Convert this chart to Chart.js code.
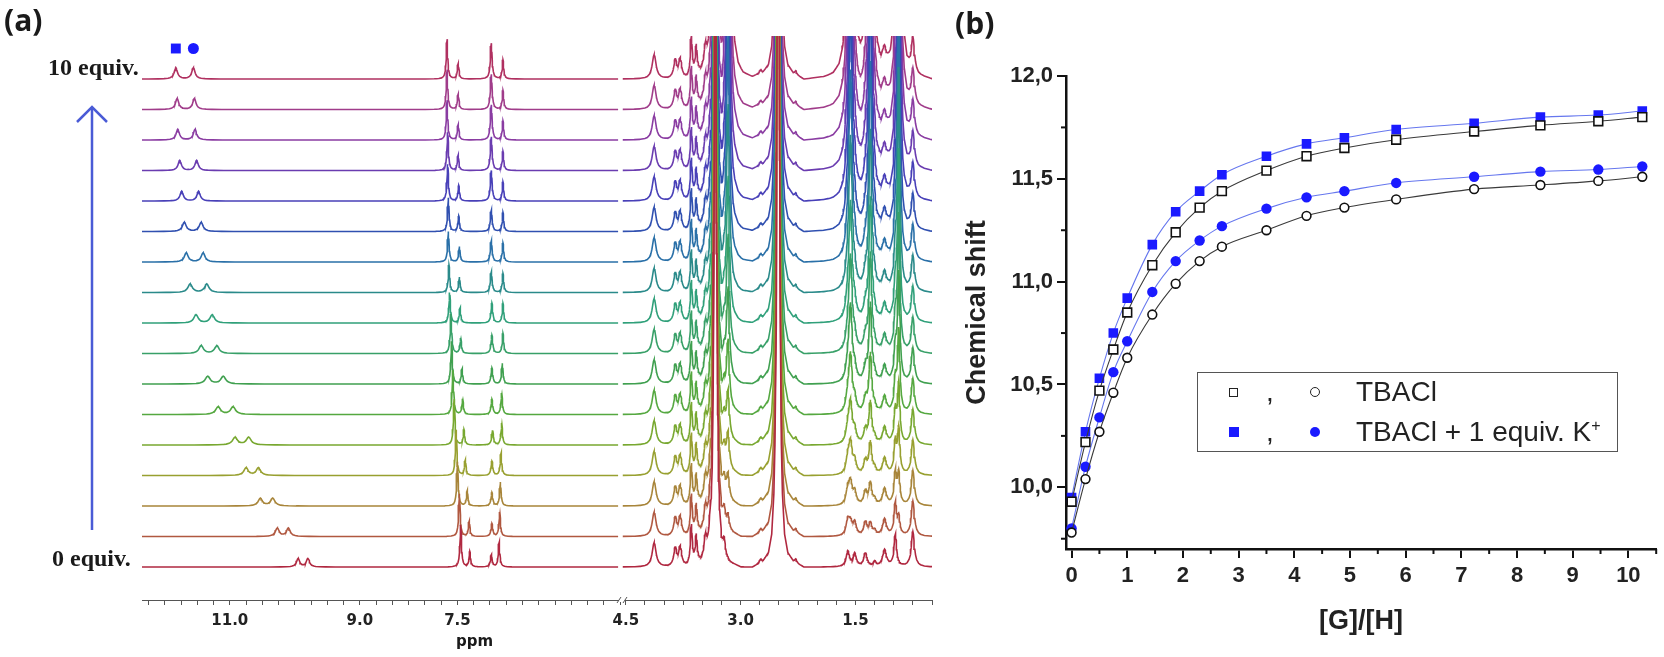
<!DOCTYPE html>
<html>
<head>
<meta charset="utf-8">
<script src="https://cdn.jsdelivr.net/npm/chart.js@4/dist/chart.umd.min.js"></script>
<style>
  html, body { margin: 0; padding: 0; background: #fff; }
  #page { position: relative; width: 1664px; height: 657px; overflow: hidden; background: #fff; }
  .box { position: absolute; top: 0; height: 657px; }
  .lbl { position: absolute; white-space: nowrap; color: #1a1a1a; }
  .panel { font-family: "Open Sans", sans-serif; font-weight: 700; font-size: 30px; line-height: 34px; }
  .equiv { font-family: "Liberation Serif", serif; font-weight: 700; font-size: 24px; line-height: 24px; }
  #legend { position: absolute; left: 1197px; top: 372px; width: 419px; height: 78px; border: 1.5px solid #555; }
  .row { position: absolute; left: 0; width: 100%; height: 34px; font-family: "Liberation Sans", Arial, sans-serif; font-size: 28px; line-height: 34px; color: #222; }
  .mk { position: absolute; box-sizing: border-box; }
</style>
</head>
<body>
<div id="page">
  <div class="box" style="left:0;width:945px"><canvas id="nmr"></canvas></div>
  <div class="box" style="left:940px;width:724px"><canvas id="titr"></canvas></div>

  <div class="lbl panel" style="left:4px;top:3px">(a)</div>
  <div class="lbl panel" style="left:955px;top:6px">(b)</div>
  <div class="lbl equiv" style="left:48px;top:55px">10 equiv.</div>
  <div class="lbl equiv" style="left:52px;top:546px">0 equiv.</div>
  <div class="lbl" style="left:456px;top:632px;font:700 15px 'DejaVu Sans',sans-serif">ppm</div>
  <svg style="position:absolute;left:0;top:0" width="140" height="657">
    <line x1="92" y1="530" x2="92" y2="107" stroke="#4a5bd6" stroke-width="2.5"/>
    <polyline points="77,122 92,107 107,122" fill="none" stroke="#4a5bd6" stroke-width="2.5"/>
  </svg>

  <div id="legend">
    <div class="row" style="top:2px">
      <div class="mk" style="left:31px;top:13px;width:9px;height:9px;border:1.6px solid #222;background:#fff"></div>
      <span style="position:absolute;left:68px">,</span>
      <div class="mk" style="left:112px;top:12px;width:10px;height:10px;border:1.6px solid #222;border-radius:50%;background:#fff"></div>
      <span style="position:absolute;left:158px">TBACl</span>
    </div>
    <div class="row" style="top:42px">
      <div class="mk" style="left:31px;top:12px;width:10px;height:10px;background:#1a1aff"></div>
      <span style="position:absolute;left:68px">,</span>
      <div class="mk" style="left:112px;top:12px;width:10px;height:10px;border-radius:50%;background:#1a1aff"></div>
      <span style="position:absolute;left:158px">TBACl + 1 equiv. K<sup style="font-size:16px;line-height:0">+</sup></span>
    </div>
  </div>
</div>

<script>
// ---- titration (panel b), one value per spectrum ----
const ratioGH   = [0, 0.25, 0.5, 0.75, 1.0, 1.45, 1.87, 2.3, 2.7, 3.5, 4.22, 4.9, 5.83, 7.23, 8.42, 9.46, 10.25];
const nhSquare  = [9.93, 10.22, 10.47, 10.67, 10.85, 11.08, 11.24, 11.36, 11.44, 11.54, 11.61, 11.65, 11.69, 11.73, 11.76, 11.78, 11.80];
const nhSquareK = [9.95, 10.27, 10.53, 10.75, 10.92, 11.18, 11.34, 11.44, 11.52, 11.61, 11.67, 11.70, 11.74, 11.77, 11.80, 11.81, 11.83];
const nhCircle  = [9.78, 10.04, 10.27, 10.46, 10.63, 10.84, 10.99, 11.10, 11.17, 11.25, 11.32, 11.36, 11.40, 11.45, 11.47, 11.49, 11.51];
const nhCircleK = [9.80, 10.10, 10.34, 10.56, 10.71, 10.95, 11.10, 11.20, 11.27, 11.355, 11.41, 11.44, 11.48, 11.51, 11.535, 11.545, 11.56];

const xTicksB = [0, 1, 2, 3, 4, 5, 6, 7, 8, 9, 10];
const xMinorB = [0.5, 1.5, 2.5, 3.5, 4.5, 5.5, 6.5, 7.5, 8.5, 9.5, 10.5];
const yTicksB = [10.0, 10.5, 11.0, 11.5, 12.0];
const yMinorB = [9.75, 10.25, 10.75, 11.25, 11.75];

// ---- stacked 1H NMR spectra (panel a), bottom (0 equiv) to top (10 equiv) ----
// NH peaks follow nhSquareK / nhCircleK
const nhHeight = [0.27, 0.27, 0.25, 0.25, 0.25, 0.25, 0.25, 0.26, 0.27, 0.28, 0.3, 0.3, 0.32, 0.33, 0.35, 0.36, 0.37];
const nhWidth  = [0.03, 0.035, 0.04, 0.04, 0.045, 0.045, 0.045, 0.04, 0.04, 0.04, 0.035, 0.035, 0.03, 0.03, 0.03, 0.03, 0.03];
// aromatic peaks
const aroA  = [7.45, 7.47, 7.50, 7.52, 7.55, 7.57, 7.59, 7.60, 7.62, 7.63, 7.64, 7.64, 7.65, 7.65, 7.66, 7.66, 7.66];
const aroAh = [1.37, 1.4, 1.45, 1.5, 1.5, 1.45, 1.4, 1.3, 1.0, 0.9, 1.0, 1.1, 1.2, 1.25, 1.3, 1.3, 1.3];
const aroB  = [7.31, 7.32, 7.35, 7.38, 7.40, 7.42, 7.43, 7.45, 7.46, 7.47, 7.47, 7.48, 7.48, 7.49, 7.49, 7.49, 7.49];
const aroC  = [6.98, 6.97, 6.97, 6.97, 6.96, 6.97, 6.97, 6.97, 6.97, 6.98, 6.98, 6.98, 6.98, 6.98, 6.98, 6.98, 6.98];
const aroCh = [0.4, 0.42, 0.44, 0.47, 0.48, 0.5, 0.52, 0.6, 0.65, 0.68, 0.7, 0.7, 1.0, 1.1, 1.15, 1.15, 1.17];
const aroD  = [6.86, 6.85, 6.84, 6.83, 6.82, 6.82, 6.81, 6.80, 6.80, 6.80, 6.80, 6.80, 6.80, 6.80, 6.80, 6.80, 6.80];
const aroDh = [0.82, 0.8, 0.78, 0.75, 0.72, 0.7, 0.68, 0.66, 0.64, 0.62, 0.62, 0.62, 0.62, 0.62, 0.62, 0.62, 0.62];
// aliphatic host / solvent peaks: [ppm, height, width]
const hostPeaks = [
  [4.13, 0.8, 0.03], [3.855, 0.6, 0.022], [3.79, 0.62, 0.022], [3.645, 1.3, 0.015], [3.58, 0.9, 0.015],
  [3.46, 0.7, 0.02], [3.40, 0.55, 0.02], [3.33, 30, 0.014], [3.215, 0.5, 0.02], [2.74, 0.12, 0.015],
  [2.51, 40, 0.014], [2.28, 0.12, 0.015], [1.60, 0.5, 0.025], [1.51, 0.42, 0.025], [1.37, 0.45, 0.025],
  [1.25, 0.15, 0.02], [1.12, 0.55, 0.03], [0.98, 1.05, 0.02], [0.75, 1.15, 0.025]
];
// tetrabutylammonium signals: [ppm, relative height, width], scaled per spectrum by tbaHeight
const tbaPeaks  = [[3.165, 0.9, 0.022], [1.565, 0.75, 0.025], [1.305, 0.8, 0.022], [0.935, 1.1, 0.018]];
const tbaHeight = [0, 0.5, 0.9, 1.3, 1.7, 2.4, 3.2, 4.0, 5.0, 6.5, 8.0, 9.5, 11.5, 14, 17, 19, 21];

const ppmLabelsLeft  = [11.0, 9.0, 7.5];
const ppmLabelsRight = [4.5, 3.0, 1.5];

const traceColors = ['#b02840', '#b05840', '#a8853a', '#98a030', '#78a830', '#55a840', '#40a050', '#38a068',
  '#30a07a', '#2a8a8a', '#2a70a8', '#3050b0', '#4840b8', '#6a3cb0', '#8a3ca2', '#a03c8a', '#b03060'];

// line shape of one resonance: [offset in widths, relative height]
const PEAK_SHAPE = [[-24, 0], [-14, 0.005], [-9, 0.012], [-6, 0.027], [-4, 0.06], [-3, 0.1], [-2, 0.2],
  [-1.4, 0.34], [-1, 0.5], [-0.6, 0.74], [-0.3, 0.92], [0, 1], [0.3, 0.92], [0.6, 0.74], [1, 0.5],
  [1.4, 0.34], [2, 0.2], [3, 0.1], [4, 0.06], [6, 0.027], [9, 0.012], [14, 0.005], [24, 0]];

function shapeAt(d) {
  const n = PEAK_SHAPE.length;
  if (d <= PEAK_SHAPE[0][0] || d >= PEAK_SHAPE[n - 1][0]) return 0;
  for (let i = 1; i < n; i++) {
    if (d <= PEAK_SHAPE[i][0]) {
      const [x0, y0] = PEAK_SHAPE[i - 1], [x1, y1] = PEAK_SHAPE[i];
      return y0 + (y1 - y0) * (d - x0) / (x1 - x0);
    }
  }
  return 0;
}

function peaksFor(i) {
  return [
    [nhSquareK[i], nhHeight[i], nhWidth[i]],
    [nhCircleK[i], nhHeight[i], nhWidth[i]],
    [aroA[i], aroAh[i], 0.014],
    [aroB[i], 0.5, 0.014],
    [aroC[i], aroCh[i], 0.016],
    [aroD[i], aroDh[i], 0.014],
    ...hostPeaks,
    ...tbaPeaks.map(([p, r, w]) => [p, r * tbaHeight[i], w])
  ];
}

function tracePoints(peaks, base, lo, hi) {
  const xs = [lo, hi];
  peaks.forEach(([p, , w]) => PEAK_SHAPE.forEach(([d]) => {
    const x = p + d * w;
    if (x > lo && x < hi) xs.push(x);
  }));
  xs.sort((a, b) => a - b);
  return xs.map(x => ({
    x,
    y: base + peaks.reduce((s, [p, h, w]) => s + h * shapeAt((x - p) / w), 0)
  }));
}

const nmrDatasets = [{
  xAxisID: 'xL', yAxisID: 'y', showLine: false,
  pointStyle: ['rect', 'circle'], pointRadius: [7, 5.5], pointBackgroundColor: '#1a1aff', pointBorderWidth: 0,
  data: [{ x: nhSquareK[16], y: 17 }, { x: nhCircleK[16], y: 17 }]
}];
for (let i = 0; i < traceColors.length; i++) {
  const peaks = peaksFor(i);
  nmrDatasets.push({ xAxisID: 'xL', yAxisID: 'y', borderColor: traceColors[i], data: tracePoints(peaks, i, 5.03, 12.35) });
  nmrDatasets.push({ xAxisID: 'xR', yAxisID: 'y', borderColor: traceColors[i], data: tracePoints(peaks, i, 0.5, 4.54) });
}

function ppmAxis(min, max, labels, weight) {
  return {
    type: 'linear', axis: 'x', position: 'bottom', stack: 'ppm', stackWeight: weight,
    min, max, reverse: true,
    afterBuildTicks(axis) {
      const t = [];
      for (let v = Math.ceil(min * 4) / 4; v <= max + 1e-9; v += 0.25) t.push({ value: v });
      axis.ticks = t;
    },
    afterFit(axis) { axis.height = 57; axis.paddingLeft = 0; axis.paddingRight = 0; },
    grid: { drawOnChartArea: false, drawTicks: true, tickLength: 5, color: '#555', lineWidth: 1 },
    border: { display: true, color: '#555', width: 1 },
    ticks: {
      autoSkip: false, maxRotation: 0, padding: 7, color: '#222',
      font: { family: 'DejaVu Sans', size: 15, weight: 'bold' },
      callback: v => labels.some(l => Math.abs(l - v) < 1e-6) ? v.toFixed(1) : ''
    }
  };
}

// small // mark where the ppm axis is cut
const axisBreak = {
  id: 'axisBreak',
  afterDraw(chart) {
    const { ctx } = chart;
    const s = chart.scales.xL;
    const x = s.right, y = s.top;
    ctx.save();
    ctx.fillStyle = '#fff';
    ctx.fillRect(x - 3, y - 2, 6, 4);
    ctx.strokeStyle = '#555';
    ctx.lineWidth = 1;
    [-3, 3].forEach(dx => {
      ctx.beginPath();
      ctx.moveTo(x + dx - 2, y + 3);
      ctx.lineTo(x + dx + 2, y - 3);
      ctx.stroke();
    });
    ctx.restore();
  }
};

new Chart(document.getElementById('nmr'), {
  type: 'line',
  data: { datasets: nmrDatasets },
  options: {
    responsive: true, maintainAspectRatio: false, animation: false, events: [],
    normalized: true,
    layout: { padding: { left: 142, right: 13, top: 36, bottom: 0 } },
    plugins: { legend: { display: false }, tooltip: { enabled: false } },
    elements: { point: { radius: 0 }, line: { tension: 0, borderWidth: 1.6 } },
    scales: {
      xL: ppmAxis(4.97, 12.35, ppmLabelsLeft, 480),
      xR: ppmAxis(0.5, 4.55, ppmLabelsRight, 310),
      y: { type: 'linear', display: false, min: -1.08, max: 17.41 }
    }
  },
  plugins: [axisBreak]
});

// ---- panel b ----
const minorTicks = {
  id: 'minorTicks',
  afterDraw(chart) {
    const { ctx, scales: { x, y } } = chart;
    ctx.save();
    ctx.strokeStyle = '#111';
    ctx.lineWidth = 2;
    xMinorB.forEach(v => {
      const px = x.getPixelForValue(v);
      ctx.beginPath(); ctx.moveTo(px, x.top); ctx.lineTo(px, x.top + 5); ctx.stroke();
    });
    yMinorB.forEach(v => {
      const py = y.getPixelForValue(v);
      ctx.beginPath(); ctx.moveTo(y.right, py); ctx.lineTo(y.right - 5, py); ctx.stroke();
    });
    ctx.restore();
  }
};

const pts = ys => ratioGH.map((x, i) => ({ x, y: ys[i] }));
const labelFont = { family: 'Liberation Sans', size: 22, weight: 'bold' };
const titleFont = { family: 'Liberation Sans', size: 27, weight: 'bold' };

new Chart(document.getElementById('titr'), {
  type: 'line',
  data: {
    datasets: [
      { label: 'TBACl (NH a)', data: pts(nhSquare), borderColor: '#3a3a3a', pointStyle: 'rect', pointRadius: 6.2,
        pointBackgroundColor: '#fff', pointBorderColor: '#111', pointBorderWidth: 1.6 },
      { label: 'TBACl (NH b)', data: pts(nhCircle), borderColor: '#3a3a3a', pointStyle: 'circle', pointRadius: 4.4,
        pointBackgroundColor: '#fff', pointBorderColor: '#111', pointBorderWidth: 1.6 },
      { label: 'TBACl + 1 equiv. K+ (NH a)', data: pts(nhSquareK), borderColor: '#6677ee', pointStyle: 'rect', pointRadius: 6.8,
        pointBackgroundColor: '#1a1aff', pointBorderWidth: 0 },
      { label: 'TBACl + 1 equiv. K+ (NH b)', data: pts(nhCircleK), borderColor: '#6677ee', pointStyle: 'circle', pointRadius: 5.2,
        pointBackgroundColor: '#1a1aff', pointBorderWidth: 0 }
    ]
  },
  options: {
    responsive: true, maintainAspectRatio: false, animation: false, events: [],
    layout: { padding: { left: 0, right: 6, top: 76, bottom: 0 } },
    plugins: { legend: { display: false }, tooltip: { enabled: false } },
    elements: { line: { borderWidth: 1.1, cubicInterpolationMode: 'monotone' } },
    scales: {
      x: {
        type: 'linear', min: -0.1, max: 10.5,
        afterBuildTicks(axis) { axis.ticks = xTicksB.map(v => ({ value: v })); },
        afterFit(axis) { axis.height = 108; axis.paddingLeft = 0; axis.paddingRight = 0; },
        grid: { drawOnChartArea: false, tickLength: 9, color: '#111', lineWidth: 2 },
        border: { color: '#111', width: 2.5 },
        ticks: { autoSkip: false, maxRotation: 0, padding: 5, color: '#222', font: labelFont },
        title: { display: true, text: '[G]/[H]', color: '#222', font: titleFont, padding: { top: 0, bottom: 19 } }
      },
      y: {
        type: 'linear', min: 9.7, max: 12.0,
        afterBuildTicks(axis) { axis.ticks = yTicksB.map(v => ({ value: v })); },
        afterFit(axis) { axis.width = 126; axis.paddingTop = 0; axis.paddingBottom = 0; },
        grid: { drawOnChartArea: false, tickLength: 9, color: '#111', lineWidth: 2 },
        border: { color: '#111', width: 2.5 },
        ticks: { padding: 4, color: '#222', font: labelFont, callback: v => v.toFixed(1).replace('.', ',') },
        title: { display: true, text: 'Chemical shift', color: '#222', font: titleFont, padding: { top: 21, bottom: 0 } }
      }
    }
  },
  plugins: [minorTicks]
});
</script>
</body>
</html>
